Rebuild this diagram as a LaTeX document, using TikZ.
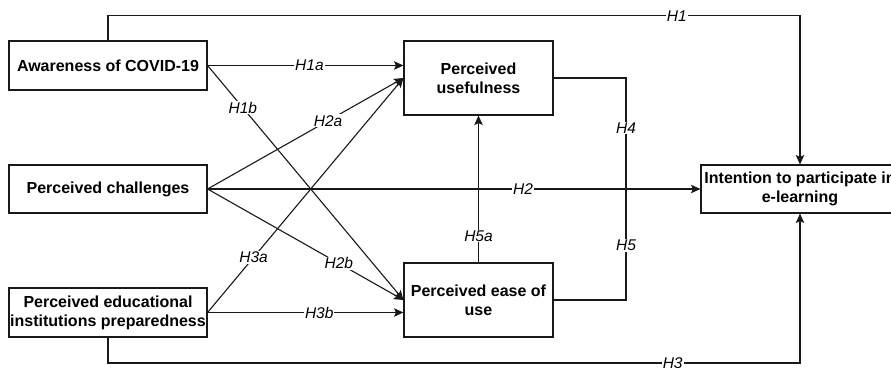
\documentclass[tikz,border=0pt]{standalone}
\usepackage{fontspec}
\setmainfont{Liberation Sans}
\usetikzlibrary{arrows.meta}
\begin{document}
\begin{tikzpicture}[x=1pt,y=-1pt,
  box/.style={draw=black!90, line width=1.1pt, inner sep=0pt, align=center,
    font=\fontsize{16}{19}\selectfont\bfseries},
  lab/.style={fill=white, inner sep=1pt, font=\fontsize{15.5}{18}\selectfont\itshape},
  ln/.style={draw=black!90, line width=1.1pt},
  arr/.style={ln, -{Stealth[length=9.5pt,width=8.5pt,inset=2pt]}}]
\clip (0,0) rectangle (891,367);
\fill[white] (0,0) rectangle (891,367);
\node[box, minimum width=198pt, minimum height=49pt] (A) at (108,65.5) {Awareness of COVID-19};
\node[box, minimum width=198pt, minimum height=48pt] (C) at (108,189) {Perceived challenges};
\node[box, minimum width=198pt, minimum height=49pt] (P) at (108,312.5) {Perceived educational\\institutions preparedness};
\node[box, minimum width=149pt, minimum height=74pt] (U) at (478.5,78) {Perceived\\usefulness};
\node[box, minimum width=149pt, minimum height=74pt] (E) at (478.5,300) {Perceived ease of\\use};
\node[box, minimum width=198pt, minimum height=48pt] (I) at (800,189) {Intention to participate in\\e-learning};
\coordinate (top) at (0,15.7);
\coordinate (bot) at (0,363);
\coordinate (h45) at (626,189);
\draw[arr] (A.north) -- (A.north|-top) -| node[lab,pos=0.411]{H1} (I.north);
\draw[arr] (P.south) -- (P.south|-bot) -| node[lab,pos=0.408]{H3} (I.south);
\draw[arr] (A.east) -- node[lab,pos=0.52]{H1a} (U.west|-A.east);
\draw[arr] (A.east) -- node[lab,pos=0.18]{H1b} (E.west);
\draw[arr] (C.east) -- node[lab,pos=0.615]{H2a} (U.west);
\draw[arr] (C.east) -- node[lab,pos=0.67]{H2b} (E.west);
\draw[arr] (C.east) -- node[lab,pos=0.64]{H2} (I.west);
\draw[arr] (P.east) -- node[lab,pos=0.235]{H3a} (U.west);
\draw[arr] (P.east) -- node[lab,pos=0.57]{H3b} (E.west|-P.east);
\draw[arr] (E.north) -- node[lab,pos=0.18]{H5a} (U.south);
\draw[ln] (U.east) -| node[lab,pos=0.725]{H4} (h45);
\draw[ln] (E.east) -| node[lab,pos=0.745]{H5} (h45);
\end{tikzpicture}
\end{document}
